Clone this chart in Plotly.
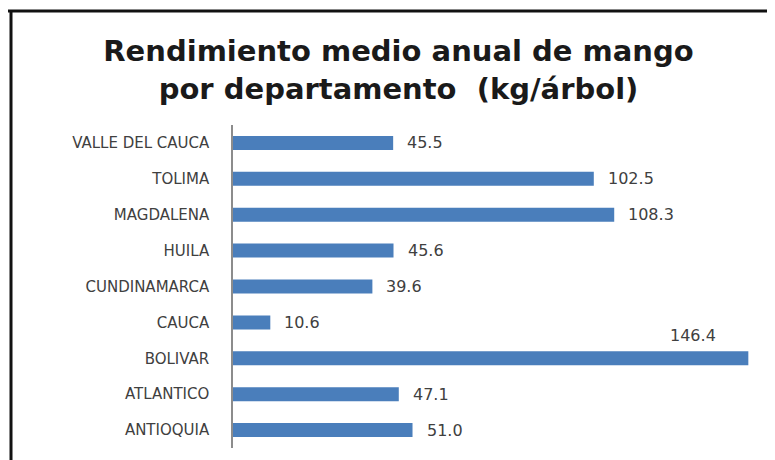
import plotly.graph_objects as go

# ---- data (top-to-bottom order as shown) ----
departamentos = ["VALLE DEL CAUCA", "TOLIMA", "MAGDALENA", "HUILA", "CUNDINAMARCA",
                 "CAUCA", "BOLIVAR", "ATLANTICO", "ANTIOQUIA"]
rendimiento = [45.5, 102.5, 108.3, 45.6, 39.6, 10.6, 146.4, 47.1, 51.0]
titulo = "Rendimiento medio anual de mango<br>por departamento  (kg/árbol)"

OFF = 8  # page body margin
W, H = 775, 460
ML, MR, MT, MB = 233 - OFF, 14 + OFF, 125 - OFF, 12 + OFF
PW, PH = W - ML - MR, H - MT - MB

def px_x(p):  # screen pixel -> paper x
    return (p - OFF - ML) / PW

def px_y(p):  # screen pixel (from top) -> paper y
    return (H - MB - (p - OFF)) / PH

fig = go.Figure(go.Bar(
    x=rendimiento, y=departamentos, orientation="h",
    marker=dict(color="#4A7EBB", line=dict(width=0)),
    hoverinfo="x+y",
))

ann = []
for d, v in zip(departamentos, rendimiento):
    if v == max(rendimiento):
        ann.append(dict(x=v, y=d, xref="x", yref="y", text=f"{v:.1f}", showarrow=False,
                        xanchor="center", yanchor="middle", xshift=-55, yshift=23,
                        font=dict(family="DejaVu Sans", size=16, color="#404040")))
    else:
        ann.append(dict(x=v, y=d, xref="x", yref="y", text=f"{v:.1f}", showarrow=False,
                        xanchor="left", yanchor="middle", xshift=12,
                        font=dict(family="DejaVu Sans", size=16, color="#404040")))

shapes = [
    dict(type="line", xref="paper", yref="paper", x0=px_x(7), x1=px_x(W + 20),
         y0=px_y(11), y1=px_y(11), line=dict(color="#111111", width=3)),
    dict(type="line", xref="paper", yref="paper", x0=px_x(11), x1=px_x(11),
         y0=px_y(10), y1=px_y(H + 20), line=dict(color="#111111", width=3)),
]

fig.update_layout(
    width=W, height=H,
    margin=dict(l=ML, r=MR, t=MT, b=MB),
    paper_bgcolor="white", plot_bgcolor="white",
    showlegend=False,
    bargap=0.61,
    title=dict(text=titulo, x=(398.5 - OFF) / W, xanchor="center", xref="container",
               y=1 - (61 - OFF) / H, yanchor="middle", yref="container",
               font=dict(family="DejaVu Sans", size=29, color="#1a1a1a", weight="bold")),
    xaxis=dict(range=[0, 150], visible=False, fixedrange=True),
    yaxis=dict(autorange="reversed", showline=True, linecolor="#8c8c8c", linewidth=1.5,
               showgrid=False, ticks="", ticklabelstandoff=19,
               tickfont=dict(family="DejaVu Sans", size=15, color="#404040")),
    annotations=ann,
    shapes=shapes,
)

fig.write_html("out.html")
